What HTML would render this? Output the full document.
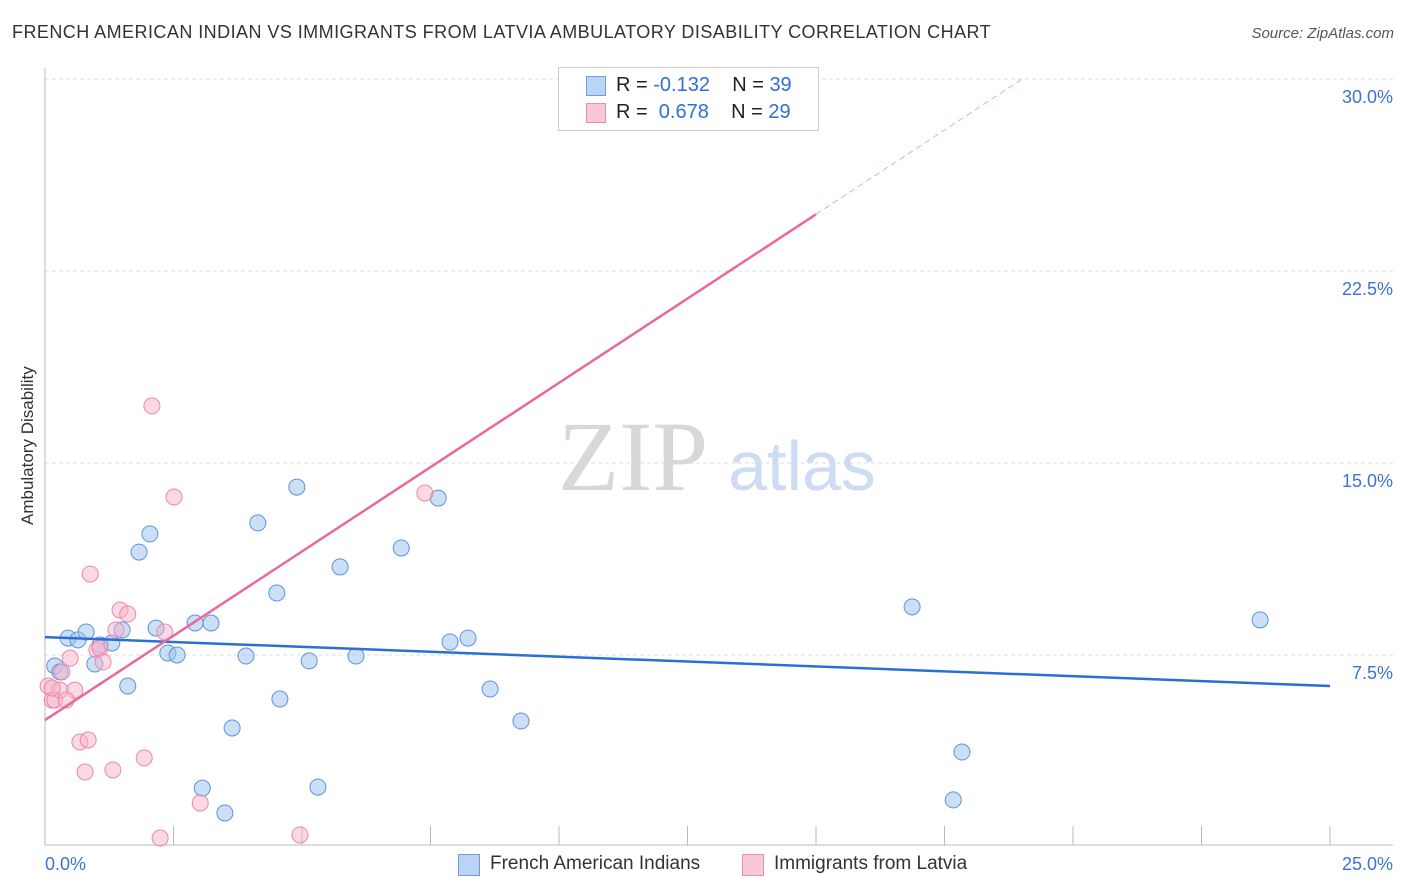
<!DOCTYPE html>
<html><head><meta charset="utf-8"><style>
body{margin:0;background:#fff;font-family:"Liberation Sans",sans-serif}
#wrap{position:relative;width:1406px;height:892px;overflow:hidden}
.t{position:absolute;white-space:nowrap}
</style></head><body>
<div id="wrap">
<div class="t" style="left:12px;top:22px;font-size:18px;color:#333;letter-spacing:0.45px">FRENCH AMERICAN INDIAN VS IMMIGRANTS FROM LATVIA AMBULATORY DISABILITY CORRELATION CHART</div>
<div class="t" style="right:12px;top:25px;font-size:15px;color:#555;font-style:italic">Source: ZipAtlas.com</div>
<div class="t" style="left:-42px;top:445px;font-size:17px;color:#333;transform:rotate(-90deg);width:140px;text-align:center">Ambulatory Disability</div>
<svg id="svg" width="1406" height="892" style="position:absolute;left:0;top:0"></svg>
<div class="t" style="left:558px;top:67px;width:259px;height:62px;border:1px solid #ccc;background:#fff"></div>
<div class="t" style="left:586px;top:76px;width:18px;height:18px;background:#bcd4f4;border:1px solid #6d9ee0"></div>
<div class="t" style="left:616px;top:74px;font-size:20px;color:#222">R = <span style="color:#2f6fd6">-0.132</span>&nbsp;&nbsp;&nbsp; N = <span style="color:#2f6fd6">39</span></div>
<div class="t" style="left:586px;top:103px;width:18px;height:18px;background:#f9c8d7;border:1px solid #e98fae"></div>
<div class="t" style="left:616px;top:101px;font-size:20px;color:#222">R = &nbsp;<span style="color:#2f6fd6">0.678</span>&nbsp;&nbsp;&nbsp; N = <span style="color:#2f6fd6">29</span></div>
<div class="t" style="left:458px;top:854px;width:20px;height:20px;background:#bcd4f4;border:1px solid #6d9ee0"></div>
<div class="t" style="left:490px;top:853px;font-size:19px;color:#333">French American Indians</div>
<div class="t" style="left:742px;top:854px;width:20px;height:20px;background:#f9c8d7;border:1px solid #e98fae"></div>
<div class="t" style="left:774px;top:853px;font-size:19px;color:#333">Immigrants from Latvia</div>
</div>
<script>
const blueX=[0.19,0.29,0.45,0.64,0.80,0.97,1.07,1.30,1.50,1.61,1.83,2.04,2.16,2.39,2.57,2.92,3.06,3.23,3.50,3.64,3.91,4.14,4.51,4.57,4.90,5.14,5.31,5.74,6.05,6.93,7.65,7.88,8.23,8.66,9.26,16.87,17.67,17.84,23.64];
const blueY=[7.07,6.84,8.16,8.09,8.40,7.15,7.89,7.97,8.48,6.29,11.52,12.23,8.55,7.58,7.50,8.75,2.30,8.75,1.33,4.65,7.46,12.66,9.92,5.78,14.06,7.27,2.34,10.94,7.46,11.68,13.63,8.01,8.16,6.17,4.92,9.38,1.84,3.71,8.87];
const pinkX=[0.06,0.14,0.19,0.29,0.33,0.49,0.58,0.68,0.78,0.84,0.88,1.01,1.07,1.13,1.32,1.38,1.46,1.61,1.93,2.08,2.24,2.33,2.51,3.02,4.96,7.39,14.36,0.14,0.41];
const pinkY=[6.29,5.74,5.74,6.13,6.84,7.38,6.13,4.10,2.93,4.18,10.66,7.70,7.77,7.23,3.01,8.48,9.26,9.10,3.48,17.23,0.35,8.40,13.67,1.72,0.47,13.83,28.40,6.21,5.74];
const yTicks=[7.5,15,22.5,30];
const yTickLabels=["7.5%","15.0%","22.5%","30.0%"];
const blueTrend=[8.20,6.29]; // y at x=0 and x=25
const pinkTrend=[4.96,1.317]; // intercept, slope
const pinkSolidEnd=15;
const NS="http://www.w3.org/2000/svg";
const svg=document.getElementById('svg');
const X=v=>45+v*51.4, Y=v=>847-v*25.6;
function mk(tag,at,parent){const e=document.createElementNS(NS,tag);for(const k in at)e.setAttribute(k,at[k]);(parent||svg).appendChild(e);return e;}
yTicks.forEach((t,i)=>{
 const g=mk('line',{x1:45,x2:1393,y1:Y(t),y2:Y(t),stroke:'#ddd','stroke-dasharray':'4,3'});
 
 
 const l=mk('text',{x:1393,y:Y(t)+24,'text-anchor':'end','font-size':18,fill:'#3b73d6','font-family':'Liberation Sans'});
 l.textContent=yTickLabels[i];
 
 
});
const ax=mk('line',{x1:45,x2:1393,y1:845,y2:845,stroke:'#bbb'});


const ay=mk('line',{x1:45,x2:45,y1:68,y2:845,stroke:'#bbb'});


for(let i=0;i<=10;i++){const tk=mk('line',{x1:X(i*2.5),x2:X(i*2.5),y1:826,y2:845,stroke:'#bbb'});
 
 }
[["0.0%",45,'start'],["25.0%",1393,'end']].forEach(([s,x,a])=>{const t=mk('text',{x:x,y:870,'text-anchor':a,'font-size':18,fill:'#3b73d6','font-family':'Liberation Sans'});t.textContent=s;
 
 });
const w1=mk('text',{x:633,y:490,'text-anchor':'middle','font-size':100,fill:'#d8d8d8','font-family':'Liberation Serif'});w1.textContent='ZIP';


const w2=mk('text',{x:802,y:490,'text-anchor':'middle','font-size':70,fill:'#cddcf2','font-family':'Liberation Sans'});w2.textContent='atlas';


blueX.forEach((x,i)=>{const c=mk('circle',{cx:X(x),cy:Y(blueY[i]),r:8,fill:'rgba(160,196,240,0.55)',stroke:'#5d93dc','stroke-width':1});
 
 });
pinkX.forEach((x,i)=>{const c=mk('circle',{cx:X(x),cy:Y(pinkY[i]),r:8,fill:'rgba(246,180,202,0.5)',stroke:'#e889aa','stroke-width':1});
 
 });
const bt=mk('line',{x1:X(0),y1:Y(blueTrend[0]),x2:X(25),y2:Y(blueTrend[1]),stroke:'#2b6fd4','stroke-width':2.5});


const pe=(30-pinkTrend[0])/pinkTrend[1];
const pt=mk('line',{x1:X(0),y1:Y(pinkTrend[0]),x2:X(pinkSolidEnd),y2:Y(pinkTrend[0]+pinkTrend[1]*pinkSolidEnd),stroke:'#e8699a','stroke-width':2.5});


const pd=mk('line',{x1:X(pinkSolidEnd),y1:Y(pinkTrend[0]+pinkTrend[1]*pinkSolidEnd),x2:X(pe),y2:Y(pinkTrend[0]+pinkTrend[1]*pe),stroke:'#f0a8c0','stroke-width':1,'stroke-dasharray':'6,4'});


</script>
</body></html>
